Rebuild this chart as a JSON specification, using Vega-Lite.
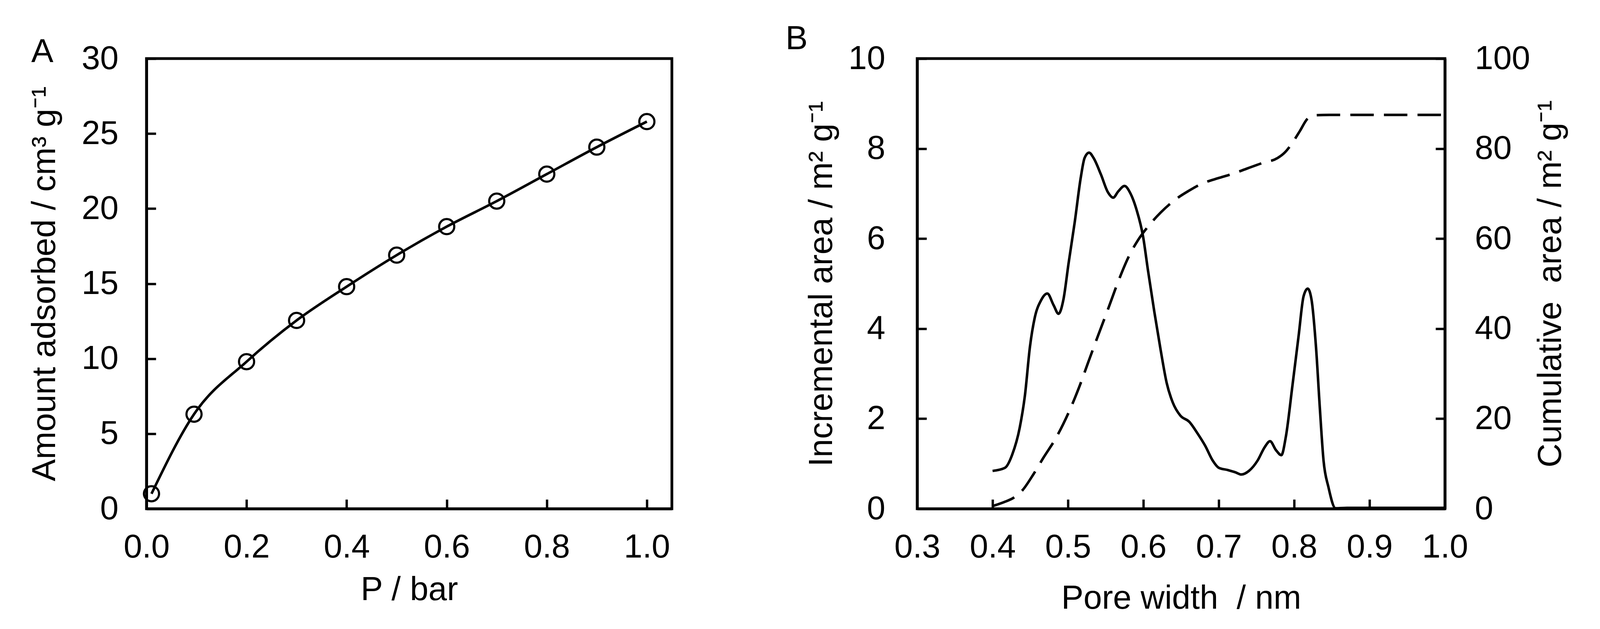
{
  "$schema": "https://vega.github.io/schema/vega-lite/v6.json",
  "padding": {"left": 68, "top": 54, "right": 0, "bottom": 0},
  "spacing": 283,
  "config": {
    "font": "Liberation Sans",
    "view": {"stroke": "black", "strokeWidth": 7},
    "axis": {
      "grid": false, "domainColor": "black", "domainWidth": 7,
      "tickColor": "black", "tickWidth": 6, "tickSize": -24,
      "labelFontSize": 85, "titleFontSize": 85, "labelColor": "black", "titleColor": "black",
      "titleFontWeight": "normal", "labelFlush": false, "labelOverlap": false,
      "labelFont": "Liberation Sans", "titleFont": "Liberation Sans"
    },
    "title": {"fontSize": 85, "fontWeight": "normal", "anchor": "start", "frame": "group", "color": "black", "font": "Liberation Sans"}
  },
  "datasets": {
    "isotherm": [
      {"P": 0.01, "V": 1.0},
      {"P": 0.095, "V": 6.3},
      {"P": 0.2, "V": 9.8},
      {"P": 0.3, "V": 12.55},
      {"P": 0.4, "V": 14.8},
      {"P": 0.5, "V": 16.9},
      {"P": 0.6, "V": 18.8},
      {"P": 0.7, "V": 20.5},
      {"P": 0.8, "V": 22.3},
      {"P": 0.9, "V": 24.1},
      {"P": 1.0, "V": 25.8}
    ],
    "incremental": [
      {"w": 0.4, "inc": 0.84},
      {"w": 0.4165, "inc": 0.91},
      {"w": 0.426, "inc": 1.2},
      {"w": 0.436, "inc": 1.8},
      {"w": 0.443, "inc": 2.53},
      {"w": 0.4495, "inc": 3.59},
      {"w": 0.456, "inc": 4.25},
      {"w": 0.464, "inc": 4.62},
      {"w": 0.4726, "inc": 4.78},
      {"w": 0.481, "inc": 4.52},
      {"w": 0.4875, "inc": 4.33},
      {"w": 0.494, "inc": 4.65},
      {"w": 0.5007, "inc": 5.44},
      {"w": 0.509, "inc": 6.37},
      {"w": 0.517, "inc": 7.36},
      {"w": 0.522, "inc": 7.79},
      {"w": 0.528, "inc": 7.91},
      {"w": 0.534, "inc": 7.79},
      {"w": 0.5436, "inc": 7.43},
      {"w": 0.553, "inc": 7.03},
      {"w": 0.56, "inc": 6.91},
      {"w": 0.5667, "inc": 7.05},
      {"w": 0.575, "inc": 7.17},
      {"w": 0.583, "inc": 7.0},
      {"w": 0.591, "inc": 6.64},
      {"w": 0.5997, "inc": 6.04},
      {"w": 0.606, "inc": 5.31},
      {"w": 0.6145, "inc": 4.38},
      {"w": 0.623, "inc": 3.52},
      {"w": 0.631, "inc": 2.79},
      {"w": 0.639, "inc": 2.36},
      {"w": 0.649, "inc": 2.07},
      {"w": 0.661, "inc": 1.93},
      {"w": 0.672, "inc": 1.67},
      {"w": 0.682, "inc": 1.4},
      {"w": 0.692, "inc": 1.07},
      {"w": 0.7, "inc": 0.91},
      {"w": 0.712, "inc": 0.86},
      {"w": 0.722, "inc": 0.81},
      {"w": 0.73, "inc": 0.76},
      {"w": 0.74, "inc": 0.84},
      {"w": 0.7515, "inc": 1.07},
      {"w": 0.761, "inc": 1.37},
      {"w": 0.768, "inc": 1.5},
      {"w": 0.776, "inc": 1.3},
      {"w": 0.783, "inc": 1.19},
      {"w": 0.789, "inc": 1.6},
      {"w": 0.7977, "inc": 2.73},
      {"w": 0.806, "inc": 3.85},
      {"w": 0.8125, "inc": 4.72},
      {"w": 0.818, "inc": 4.89},
      {"w": 0.823, "inc": 4.65},
      {"w": 0.829, "inc": 3.59},
      {"w": 0.834, "inc": 2.26},
      {"w": 0.839, "inc": 1.07},
      {"w": 0.8455, "inc": 0.48},
      {"w": 0.855, "inc": 0.01},
      {"w": 0.87, "inc": 0.02},
      {"w": 1.0, "inc": 0.02}
    ],
    "cumulative": [
      {"w": 0.4, "cum": 0.6},
      {"w": 0.4149, "cum": 1.46},
      {"w": 0.428, "cum": 2.45},
      {"w": 0.4396, "cum": 4.1},
      {"w": 0.4545, "cum": 7.75},
      {"w": 0.4677, "cum": 11.4},
      {"w": 0.484, "cum": 15.7},
      {"w": 0.5007, "cum": 21.3},
      {"w": 0.5139, "cum": 26.6},
      {"w": 0.527, "cum": 32.6},
      {"w": 0.54, "cum": 38.5},
      {"w": 0.5535, "cum": 44.5},
      {"w": 0.5667, "cum": 50.5},
      {"w": 0.58, "cum": 55.8},
      {"w": 0.593, "cum": 59.7},
      {"w": 0.6063, "cum": 62.7},
      {"w": 0.623, "cum": 65.8},
      {"w": 0.6426, "cum": 68.7},
      {"w": 0.659, "cum": 70.5},
      {"w": 0.679, "cum": 72.3},
      {"w": 0.6987, "cum": 73.4},
      {"w": 0.7185, "cum": 74.4},
      {"w": 0.738, "cum": 75.6},
      {"w": 0.758, "cum": 76.8},
      {"w": 0.778, "cum": 77.9},
      {"w": 0.788, "cum": 79.2},
      {"w": 0.7977, "cum": 81.3},
      {"w": 0.8076, "cum": 83.9},
      {"w": 0.8175, "cum": 86.6},
      {"w": 0.827, "cum": 87.4},
      {"w": 0.847, "cum": 87.5},
      {"w": 0.886, "cum": 87.5},
      {"w": 1.0, "cum": 87.5}
    ]
  },
  "hconcat": [
    {
      "width": 1345,
      "height": 1153,
      "title": {"text": "A", "dx": -295, "dy": 0, "offset": -136, "baseline": "alphabetic"},
      "data": {"name": "isotherm"},
      "encoding": {
        "x": {
          "field": "P", "type": "quantitative",
          "scale": {"domain": [0, 1.05], "nice": false, "zero": false},
          "axis": {"title": "P / bar", "values": [0, 0.2, 0.4, 0.6, 0.8, 1.0], "format": ".1f", "labelPadding": 81, "titlePadding": 25}
        },
        "y": {
          "field": "V", "type": "quantitative",
          "scale": {"domain": [0, 30], "nice": false},
          "axis": {"title": "Amount adsorbed / cm³ g⁻¹", "values": [0, 5, 10, 15, 20, 25, 30], "labelPadding": 96, "titlePadding": 50}
        }
      },
      "layer": [
        {"mark": {"type": "line", "interpolate": "monotone", "color": "black", "strokeWidth": 6.5}},
        {"mark": {"type": "point", "shape": "circle", "filled": false, "color": "black", "strokeWidth": 5.5, "size": 1500, "opacity": 1}}
      ]
    },
    {
      "width": 1351,
      "height": 1153,
      "title": {"text": "B", "dx": -337, "dy": 0, "offset": -103, "baseline": "alphabetic"},
      "layer": [
        {
          "data": {"name": "incremental"},
          "mark": {"type": "line", "interpolate": "monotone", "color": "black", "strokeWidth": 6.5},
          "encoding": {
            "x": {
              "field": "w", "type": "quantitative",
              "scale": {"domain": [0.3, 1.0], "nice": false, "zero": false},
              "axis": {"title": "Pore width\u00a0 / nm", "values": [0.3, 0.4, 0.5, 0.6, 0.7, 0.8, 0.9, 1.0], "format": ".1f", "labelPadding": 81, "titlePadding": 47}
            },
            "y": {
              "field": "inc", "type": "quantitative",
              "scale": {"domain": [0, 10], "nice": false},
              "axis": {"title": "Incremental area / m² g⁻¹", "values": [0, 2, 4, 6, 8, 10], "labelPadding": 106, "titlePadding": 24}
            }
          }
        },
        {
          "data": {"name": "cumulative"},
          "mark": {"type": "line", "interpolate": "monotone", "color": "black", "strokeWidth": 6.5, "strokeDash": [60, 26]},
          "encoding": {
            "x": {"field": "w", "type": "quantitative"},
            "y": {
              "field": "cum", "type": "quantitative",
              "scale": {"domain": [0, 100], "nice": false},
              "axis": {"orient": "right", "title": "Cumulative\u00a0 area / m² g⁻¹", "values": [0, 20, 40, 60, 80, 100], "labelPadding": 100, "titlePadding": 29, "titleAngle": 270, "titleBaseline": "top"}
            }
          }
        }
      ],
      "resolve": {"scale": {"y": "independent"}}
    }
  ]
}
